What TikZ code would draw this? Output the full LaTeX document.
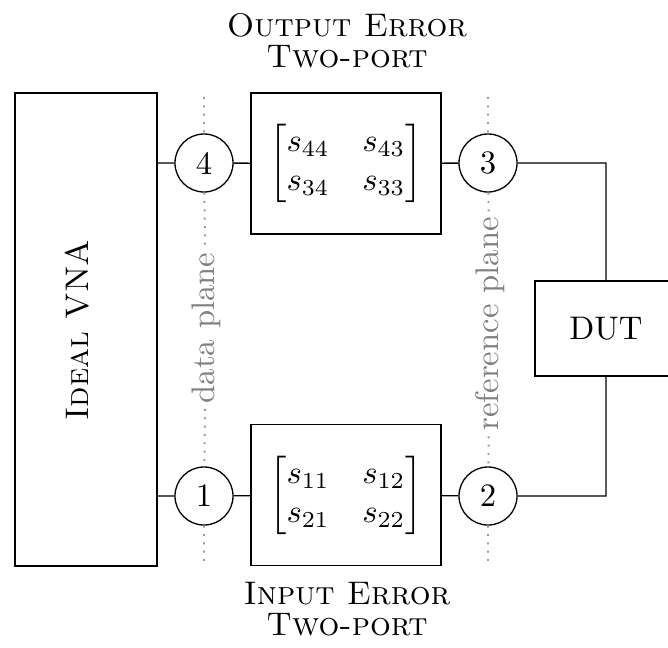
\documentclass[tikz,border=0pt]{standalone}
\usepackage{amsmath}
\begin{document}
\begin{tikzpicture}[x=0.306pt,y=-0.306pt,
  every node/.style={inner sep=0pt},
  box/.style={draw, rectangle},
  port/.style={draw, circle, fill=white, minimum size=17.75pt},
  plane/.style={gray!80, line width=0.6pt, dash pattern=on 0.6pt off 1.95pt},
  planelabel/.style={text=gray, rotate=90, inner sep=1.5pt},
  caption/.style={font=\scshape, align=center}]
\useasboundingbox (0,0) rectangle (668,647);
% boxes
\node[box, minimum width=43.45pt, minimum height=144.7pt] (vna) at (86,329.5) {};
\node[font=\scshape, rotate=90] (vnatext) at (77,330) {Ideal VNA};
\node[box, minimum width=58.1pt, minimum height=43.1pt] (out) at (346,163.5)
  {$\begin{bmatrix} s_{44} & s_{43}\\ s_{34} & s_{33}\end{bmatrix}$};
\node[box, minimum width=58.1pt, minimum height=43.1pt] (in) at (346,495)
  {$\begin{bmatrix} s_{11} & s_{12}\\ s_{21} & s_{22}\end{bmatrix}$};
\node[box, minimum width=43.45pt, minimum height=29.1pt] (dut) at (606,328.5) {DUT};
% ports
\node[port] (p4) at (204,163) {4};
\node[port] (p1) at (204,496) {1};
\node[port] (p3) at (488,163) {3};
\node[port] (p2) at (488,496) {2};
% planes
\node[planelabel] (dp) at (206,328) {data plane};
\node[planelabel] (rp) at (490,324) {reference plane};
\coordinate (dtop) at (204,97);
\coordinate (dbot) at (204,566);
\coordinate (rtop) at (488,97);
\coordinate (rbot) at (488,566);
\draw[plane] (dtop) -- (p4) (p4) -- (dp) (dp) -- (p1) (p1) -- (dbot);
\draw[plane] (rtop) -- (p3) (p3) -- (rp) (rp) -- (p2) (p2) -- (rbot);
% wires
\draw (vna.east |- p4) -- (p4) -- (out) -- (p3) -| (dut);
\draw (vna.east |- p1) -- (p1) -- (in) -- (p2) -| (dut);
% captions
\node[caption] (outcap) at (347,41) {Output Error\\[-2.5pt]Two-port};
\node[caption] (incap) at (347,609) {Input Error\\[-2.5pt]Two-port};
\end{tikzpicture}
\end{document}
